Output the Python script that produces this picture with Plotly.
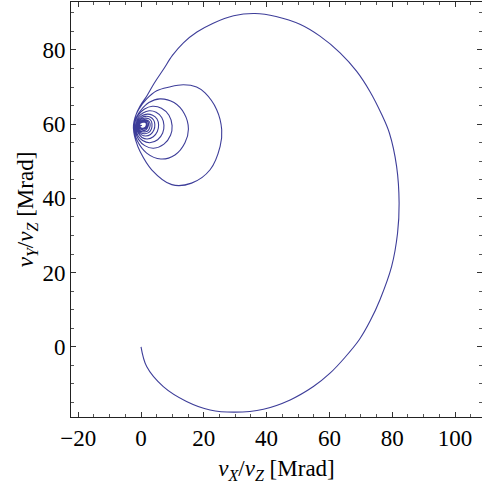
import plotly.graph_objects as go

# Trajectory in the (vX/vZ, vY/vZ) plane, in Mrad, listed along the path.
# Outer sweep: from the origin down, around to the right, over the top and back to the left.
arc_x = [0.0, 1.8, 7.1, 14.5, 22.0, 29.9, 39.0, 47.5, 54.9, 60.2, 65.0, 69.5, 73.0, 76.1,
         79.8, 81.7, 82.2, 81.4, 79.1, 76.7, 72.9, 68.7, 63.4, 57.0, 50.6, 43.0, 36.3,
         29.5, 23.0, 17.8, 13.5, 10.0, 7.1, 4.2, 1.8, -0.3, -1.7, -2.4]
arc_y = [0.0, -5.3, -10.7, -14.7, -17.0, -17.6, -16.8, -14.3, -10.7, -7.1, -2.8, 1.9, 7.0, 12.7,
         21.6, 30.6, 38.7, 48.6, 57.6, 62.5, 68.8, 74.2, 79.2, 83.7, 86.9, 89.0, 89.8,
         89.2, 87.2, 84.8, 81.9, 78.5, 74.7, 71.0, 67.5, 64.9, 62.3, 59.8]

# Successive turns of the inward spiral towards (0.3, 59.8)
loop1_x = [-2.3, -1.7, -0.3, 3.4, 9.8, 16.1, 22.0, 25.2, 25.7, 24.1, 20.4, 17.7, 13.5, 9.0, 5.0, 1.8, -0.7, -1.9, -2.3]
loop1_y = [57.8, 55.6, 52.6, 47.7, 43.7, 44.1, 47.7, 54.0, 58.5, 63.9, 68.4, 70.0, 70.6, 70.0, 69.0, 66.8, 64.0, 61.8, 60.0]

loop2_x = [-2.1, -1.2, 1.8, 6.3, 10.8, 14.0, 15.1, 13.8, 10.5, 6.0, 2.5, 0.0, -1.4, -2.1]
loop2_y = [58.0, 55.5, 52.2, 50.6, 51.7, 55.0, 58.7, 62.8, 65.8, 66.8, 65.8, 63.8, 62.0, 60.2]

loop3_x = [-1.8, -0.8, 1.2, 4.0, 7.3, 9.4, 9.9, 8.9, 6.5, 3.6, 1.0, -0.7, -1.6, -1.9]
loop3_y = [58.0, 55.9, 54.2, 53.5, 54.6, 57.0, 59.6, 62.4, 64.3, 64.8, 64.0, 62.6, 61.3, 60.1]

loop4_x = [-1.6, -0.9, 0.5, 2.8, 5.3, 6.9, 7.3, 6.6, 4.8, 2.6, 0.6, -0.8, -1.5]
loop4_y = [58.4, 56.8, 55.6, 55.0, 55.8, 57.6, 59.7, 61.8, 63.2, 63.6, 63.0, 61.9, 60.3]

loop5_x = [-1.4, -0.8, 0.3, 2.0, 3.9, 5.2, 5.6, 5.1, 3.7, 2.0, 0.4, -0.7, -1.3]
loop5_y = [58.7, 57.5, 56.4, 56.0, 56.6, 58.0, 59.8, 61.4, 62.4, 62.7, 62.3, 61.4, 60.3]

loop6_x = [-1.0, 0.2, 1.5, 3.0, 4.1, 4.4, 4.0, 2.9, 1.5, 0.3, -0.6, -1.2]
loop6_y = [58.3, 57.1, 56.8, 57.2, 58.4, 59.9, 61.1, 61.9, 62.1, 61.8, 61.0, 60.1]

loop7_x = [-0.9, 0.1, 1.2, 2.4, 3.3, 3.5, 3.2, 2.3, 1.2, 0.2, -0.6, -1.1]
loop7_y = [58.6, 57.6, 57.4, 57.7, 58.7, 60.0, 60.9, 61.5, 61.6, 61.4, 60.8, 60.0]

loop8_x = [-0.8, 0.0, 1.0, 2.0, 2.7, 2.9, 2.6, 1.9, 1.0, 0.2, -0.5, -0.9]
loop8_y = [58.9, 58.1, 57.9, 58.1, 58.9, 60.0, 60.7, 61.1, 61.2, 61.0, 60.6, 60.0]

loop9_x = [-0.6, 0.1, 0.8, 1.6, 2.2, 2.4, 2.2, 1.6, 0.8, 0.1, -0.5, -0.8]
loop9_y = [59.1, 58.5, 58.3, 58.5, 59.2, 60.0, 60.6, 60.9, 60.9, 60.7, 60.4, 60.0]

loop10_x = [-0.5, 0.1, 0.7, 1.4, 1.9, 2.0, 1.8, 1.3, 0.7, 0.1, -0.4, -0.6]
loop10_y = [59.2, 58.7, 58.6, 58.8, 59.3, 60.0, 60.5, 60.7, 60.7, 60.6, 60.3, 59.9]

loop11_x = [-0.3, 0.2, 0.7, 1.3, 1.6, 1.7, 1.5, 1.1, 0.6, 0.1, -0.3, -0.4, -0.1, 0.3]
loop11_y = [59.3, 58.9, 58.9, 59.1, 59.5, 60.0, 60.4, 60.5, 60.5, 60.4, 60.2, 59.9, 59.6, 59.7]

x_ticks = [-20, 0, 20, 40, 60, 80, 100]
y_ticks = [0, 20, 40, 60, 80]

segments_x = [arc_x, loop1_x, loop2_x, loop3_x, loop4_x, loop5_x, loop6_x,
              loop7_x, loop8_x, loop9_x, loop10_x, loop11_x]
segments_y = [arc_y, loop1_y, loop2_y, loop3_y, loop4_y, loop5_y, loop6_y,
              loop7_y, loop8_y, loop9_y, loop10_y, loop11_y]

path_x = [v for seg in segments_x for v in seg]
path_y = [v for seg in segments_y for v in seg]

LINE = "#3d3d99"
FONT = '"Liberation Serif", "Times New Roman", Times, serif'

fig = go.Figure(
    go.Scatter(
        x=path_x, y=path_y, mode="lines",
        line=dict(color=LINE, width=1.1, shape="spline", smoothing=1.0),
        hoverinfo="skip",
    )
)

axis_common = dict(
    showgrid=False, zeroline=False,
    showline=True, linecolor="#222222", linewidth=1,
    mirror="ticks", ticks="inside", ticklen=5, tickwidth=1, tickcolor="#333333",
    tickfont=dict(family=FONT, size=23, color="black"),
    minor=dict(dtick=5, ticks="inside", ticklen=3, tickwidth=1, tickcolor="#555555"),
)

fig.update_xaxes(
    range=[-22.3, 108.6], tickvals=x_ticks, tick0=0,
    title=dict(text="<i>v</i><sub><i>X</i></sub>/<i>v</i><sub><i>Z</i></sub> [Mrad]",
               font=dict(family=FONT, size=23, color="black"), standoff=10),
    **axis_common,
)
fig.update_yaxes(
    range=[-18.9, 92.9], tickvals=y_ticks, tick0=0,
    title=dict(text="<i>v</i><sub><i>Y</i></sub>/<i>v</i><sub><i>Z</i></sub> [Mrad]",
               font=dict(family=FONT, size=23, color="black"), standoff=2),
    **axis_common,
)

fig.update_layout(
    width=482, height=492,
    margin=dict(l=71, r=0, t=2, b=75),
    paper_bgcolor="white", plot_bgcolor="white",
    showlegend=False,
)

fig.write_html("out.html")
